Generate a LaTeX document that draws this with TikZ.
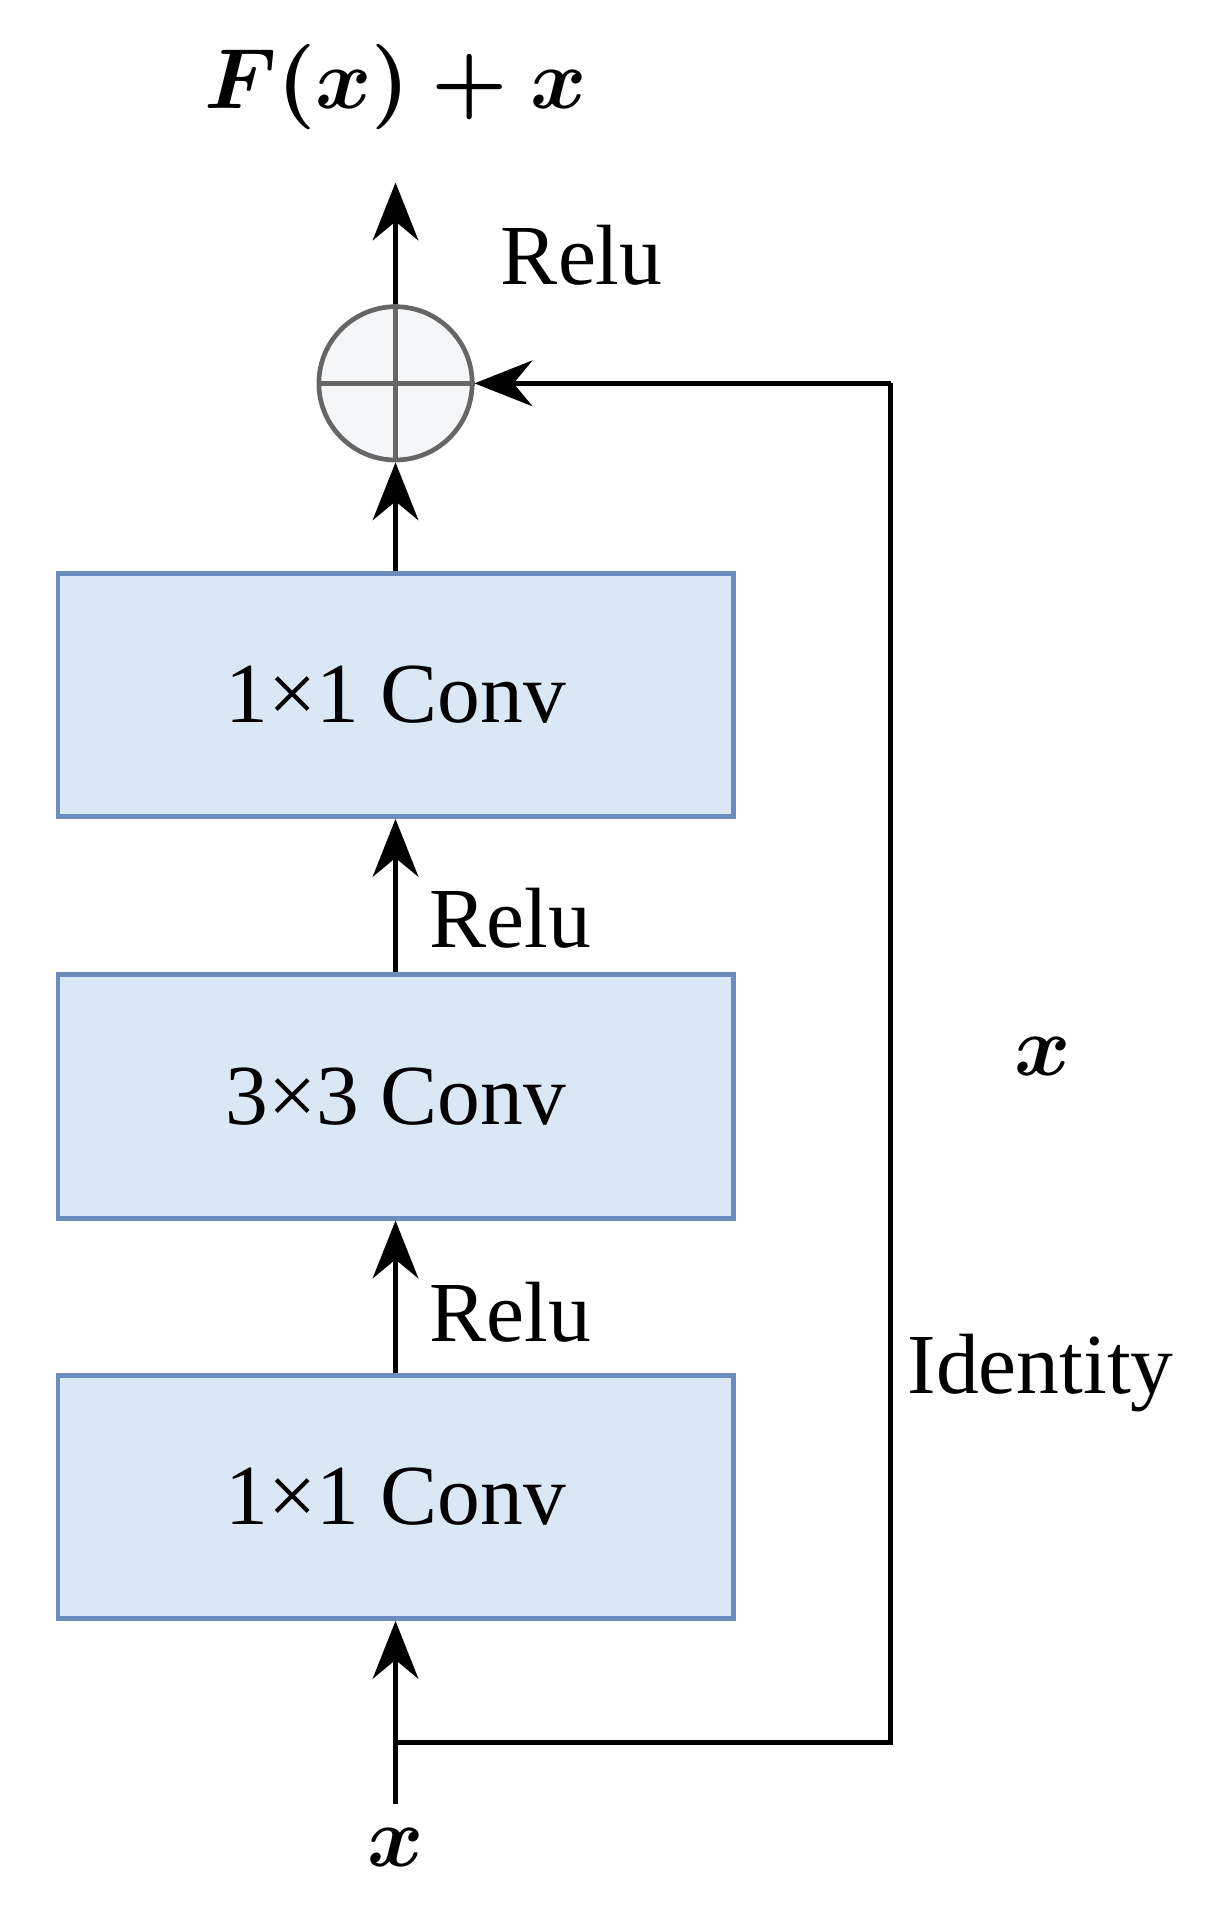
\documentclass[tikz,border=0pt]{standalone}
\usepackage{fontspec}
\setmainfont{Liberation Serif}
\usetikzlibrary{arrows.meta}
\definecolor{box_fill}{RGB}{218,232,246}
\definecolor{box_line}{RGB}{108,142,191}
\definecolor{sum_fill}{RGB}{244,246,248}
\definecolor{sum_line}{RGB}{102,102,102}
\newcommand{\bigmath}[1]{\scalebox{4}{\boldmath$#1$}}
\begin{document}
\begin{tikzpicture}[x=0.02cm, y=-0.02cm,
    conv/.style={draw=box_line, fill=box_fill, line width=2.2pt, minimum width=11.1cm, minimum height=4cm, inner sep=0pt},
    lbl/.style={font=\fontsize{40}{48}\selectfont},
    flow/.style={line width=2.4pt, -{Stealth[length=0.95cm, width=0.75cm]}},
    line/.style={line width=2.4pt}]
    \useasboundingbox (0,0) rectangle (1000,1567);
    % blocks
    \node[conv, lbl] (c3) at (325,1230) {1×1 Conv};
    \node[conv, lbl] (c2) at (325,901) {3×3 Conv};
    \node[conv, lbl] (c1) at (325,571) {1×1 Conv};
    % sum node
    \node[circle, draw=sum_line, fill=sum_fill, line width=2.2pt, minimum size=2.52cm, inner sep=0pt] (sum) at (325,315) {};
    \draw[sum_line, line width=2.2pt] (sum.west) -- (sum.east) (sum.north) -- (sum.south);
    % texts
    \node (out) at (325,72) {\bigmath{F(x)+x}};
    \node (in) at (325,1518) {\bigmath{x}};
    \coordinate (top) at (325,150);
    \coordinate (start) at (325,1482);
    \coordinate (split) at (325,1432);
    \coordinate (cr) at (732,1432);
    \coordinate (tr) at (732,315);
    % connectors
    \draw[flow] (start) -- (c3.south);
    \draw[flow] (c3.north) -- node[lbl, right, xshift=0.4cm, pos=0.4] {Relu} (c2.south);
    \draw[flow] (c2.north) -- node[lbl, right, xshift=0.4cm, pos=0.35] {Relu} (c1.south);
    \draw[flow] (c1.north) -- (sum.south);
    \draw[flow] (sum.north) -- (top);
    \node[lbl] (r3) at (478,210) {Relu};
    \draw[line] (split) -- (cr) -- (tr);
    \draw[flow] (tr) -- (sum.east);
    \node (xid) at (857,868) {\bigmath{x}};
    \node[lbl] (ident) at (855,1128) {Identity};
\end{tikzpicture}
\end{document}
